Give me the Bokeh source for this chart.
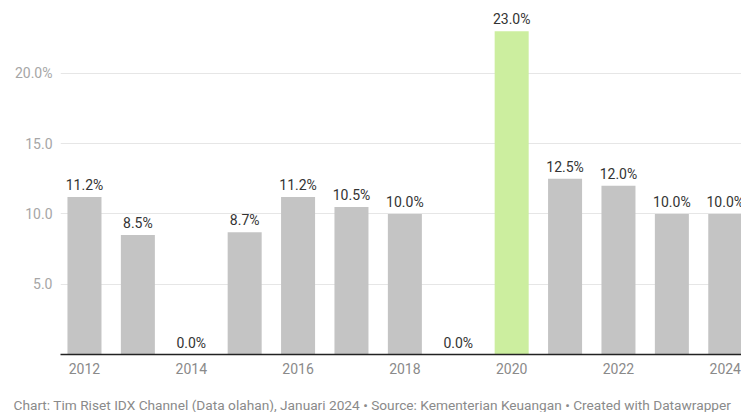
from bokeh.plotting import figure
from bokeh.models import ColumnDataSource, Range1d, FixedTicker
from bokeh.layouts import column
from bokeh.embed import file_html
from bokeh.resources import INLINE
from bokeh.core.properties import value

years = [2012, 2013, 2014, 2015, 2016, 2017, 2018, 2019, 2020, 2021, 2022, 2023, 2024]
values = [11.2, 8.5, 0.0, 8.7, 11.2, 10.5, 10.0, 0.0, 23.0, 12.5, 12.0, 10.0, 10.0]
highlight_year = 2020
y_ticks = [5, 10, 15, 20]
y_tick_labels = ["5.0", "10.0", "15.0", "20.0%"]
x_ticks = [2012, 2014, 2016, 2018, 2020, 2022, 2024]
footer = ("Chart: Tim Riset IDX Channel (Data olahan), Januari 2024 \u2022 "
          "Source: Kementerian Keuangan \u2022 Created with Datawrapper")

GRAY = "#c4c4c4"
GREEN = "#ccee9f"
FONT = "Roboto"

colors = [GREEN if y == highlight_year else GRAY for y in years]
labels = ["%.1f%%" % v for v in values]
src = ColumnDataSource(dict(x=years, top=values, color=colors, label=labels))

p = figure(width=741, height=390, output_backend="svg", toolbar_location=None,
           x_range=Range1d(2011.551, 2024.304), y_range=Range1d(0, 25.18),
           min_border_left=60, min_border_right=0, min_border_top=0,
           min_border_bottom=36)
p.outline_line_color = None
p.background_fill_color = "white"
p.border_fill_color = "white"

p.vbar(x="x", top="top", width=0.637, color="color", source=src, line_color=None)
p.text(x="x", y="top", text="label", source=src, text_align="center",
       text_baseline="middle", y_offset=-12, text_font=value(FONT),
       text_font_size="14px", text_color="#333333")

# y axis
p.yaxis.ticker = FixedTicker(ticks=y_ticks)
p.yaxis.major_label_overrides = {t: l for t, l in zip(y_ticks, y_tick_labels)}
p.yaxis.axis_line_color = None
p.yaxis.major_tick_line_color = None
p.yaxis.minor_tick_line_color = None
p.yaxis.major_tick_out = 0
p.yaxis.major_tick_in = 0
p.yaxis.major_label_standoff = 8
p.yaxis.major_label_text_font = FONT
p.yaxis.major_label_text_font_size = "14px"
p.yaxis.major_label_text_color = "#a6a6a6"

# x axis
p.xaxis.ticker = FixedTicker(ticks=x_ticks)
p.xaxis.axis_line_color = "#222222"
p.xaxis.axis_line_width = 1.5
p.xaxis.major_tick_line_color = None
p.xaxis.minor_tick_line_color = None
p.xaxis.major_tick_out = 0
p.xaxis.major_tick_in = 0
p.xaxis.major_label_standoff = 8
p.xaxis.major_label_text_font = FONT
p.xaxis.major_label_text_font_size = "14px"
p.xaxis.major_label_text_color = "#8a8a8a"

p.xgrid.grid_line_color = None
p.ygrid.ticker = FixedTicker(ticks=y_ticks)
p.ygrid.grid_line_color = "#e6e6e6"

# footer strip (title used as source line)
f = figure(width=741, height=22, output_backend="svg", toolbar_location=None,
           x_range=Range1d(0, 1), y_range=Range1d(0, 1), min_border=0,
           title=footer, title_location="below")
f.axis.visible = False
f.grid.visible = False
f.outline_line_color = None
f.title.align = "left"
f.title.offset = -47
f.title.standoff = 0
f.title.text_font = FONT
f.title.text_font_size = "13.7px"
f.title.text_font_style = "normal"
f.title.text_color = "#8a8a8a"

open("out.html", "w").write(file_html(column(p, f, spacing=0), INLINE))
